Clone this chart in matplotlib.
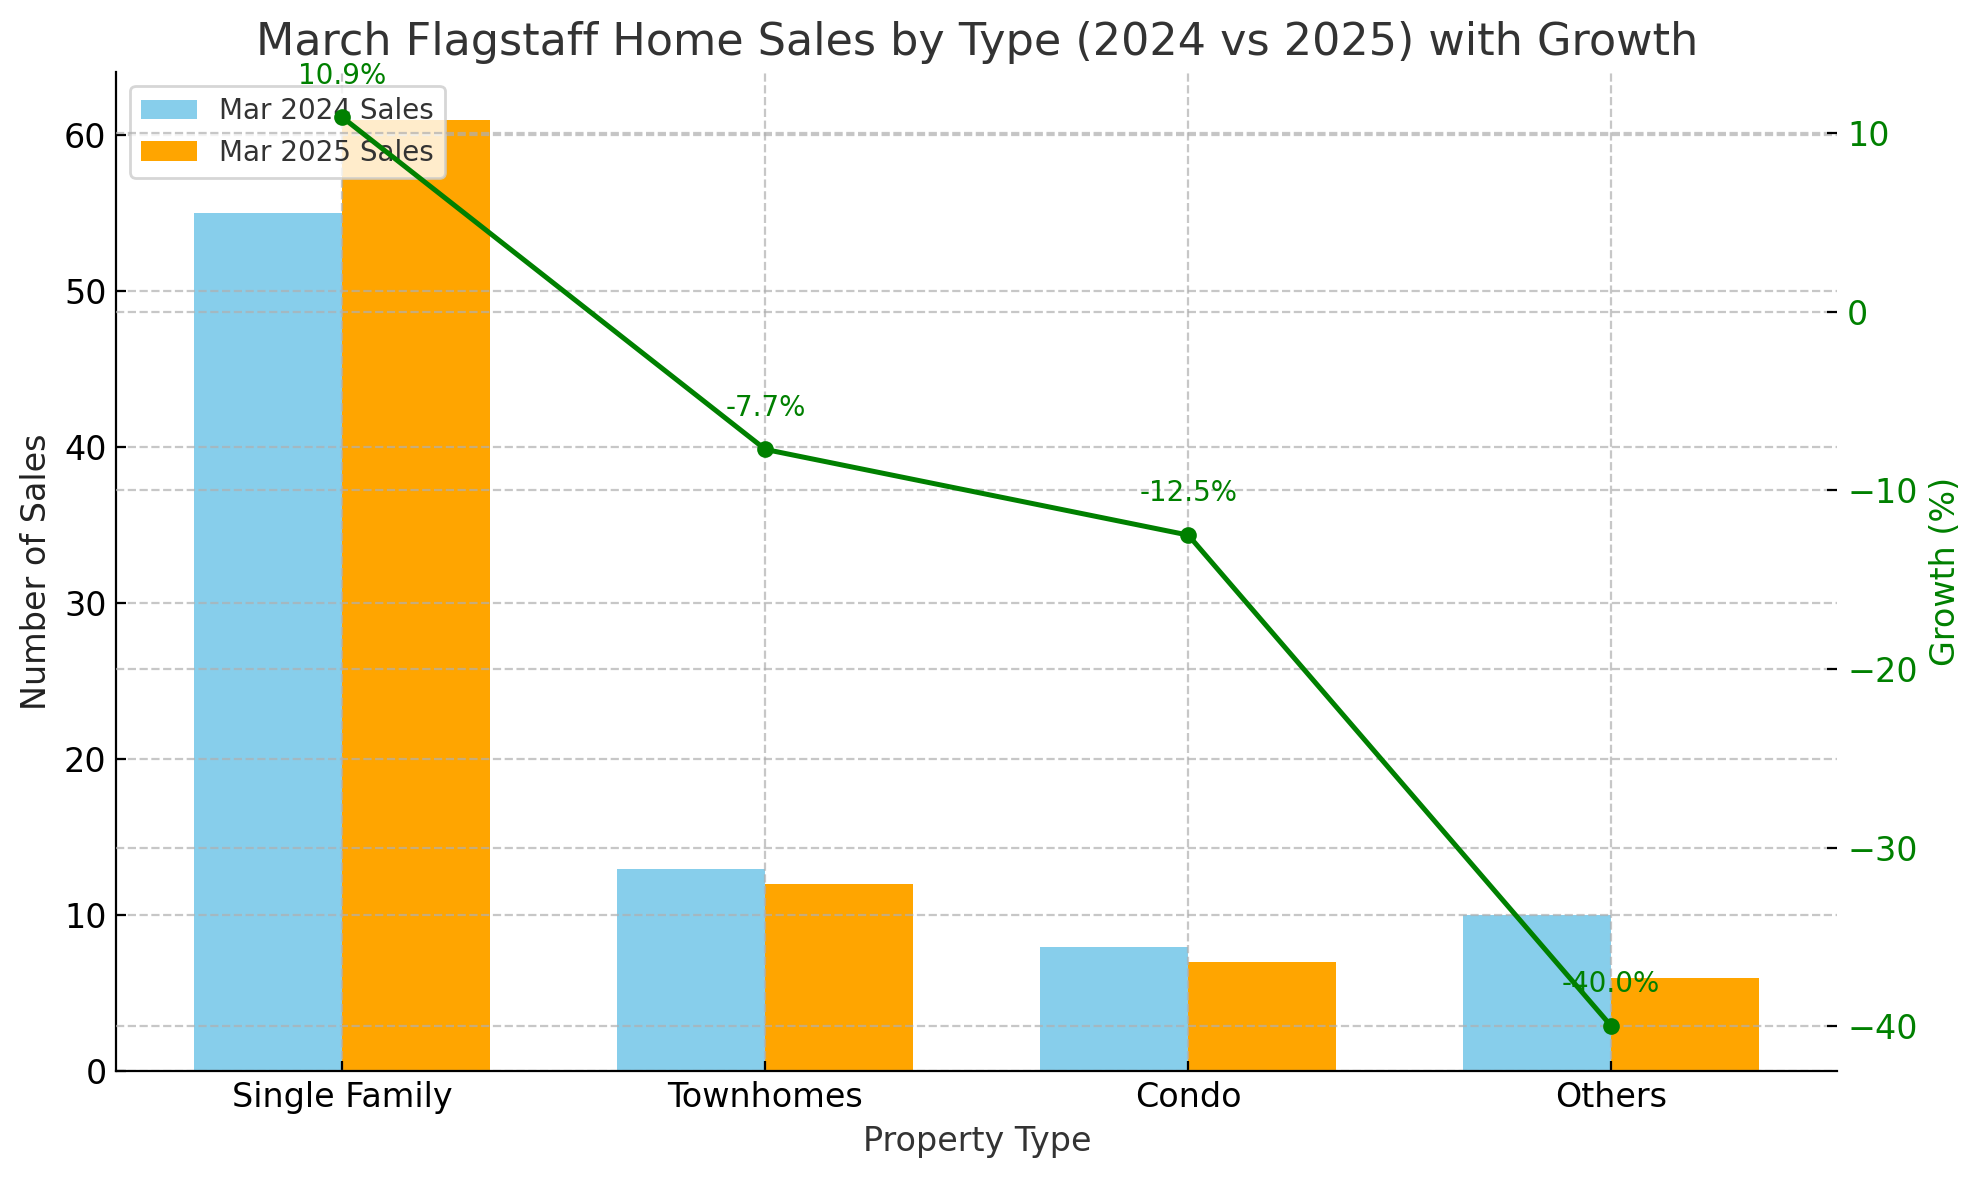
import numpy as np
import matplotlib
matplotlib.use('Agg')
import matplotlib.pyplot as plt

categories = ['Single Family', 'Townhomes', 'Condo', 'Others']
sales_2024 = [55, 13, 8, 10]
sales_2025 = [61, 12, 7, 6]
growth = [10.9, -7.7, -12.5, -40.0]

fig, ax1 = plt.subplots(figsize=(9.9, 5.9), dpi=200)

x = np.arange(len(categories))
w = 0.35
ax1.bar(x - w/2, sales_2024, w, color='skyblue', label='Mar 2024 Sales')
ax1.bar(x + w/2, sales_2025, w, color='orange', label='Mar 2025 Sales')
ax1.set_xticks(x)
ax1.set_xticklabels(categories, fontsize=12)
ax1.set_xlabel('Property Type', fontsize=12, color='#333333')
ax1.set_ylabel('Number of Sales', fontsize=12, color='#222222')
ax1.tick_params(axis='both', direction='in', labelsize=12)
ax1.grid(True, linestyle='--', alpha=0.7, linewidth=0.8)
ax1.legend(loc='upper left', fontsize=10, labelcolor='#333333')
ax1.spines['top'].set_visible(False)
ax1.spines['right'].set_visible(False)

ax2 = ax1.twinx()
ax2.plot(x, growth, color='green', marker='o', linewidth=1.8, markersize=5)
for xi, g in zip(x, growth):
    ax2.annotate(f'{g:.1f}%', (xi, g), xytext=(0, 10), textcoords='offset points',
                 ha='center', va='bottom', color='green', fontsize=10)
ax2.set_ylabel('Growth (%)', fontsize=12, color='green')
ax2.tick_params(axis='y', direction='in', labelsize=12, labelcolor='green')
ax2.grid(True, axis='y', linestyle='--', alpha=0.7, linewidth=0.8)
for s in ['top', 'right', 'left', 'bottom']:
    ax2.spines[s].set_visible(False)

ax1.set_title('March Flagstaff Home Sales by Type (2024 vs 2025) with Growth',
              fontsize=16, color='#333333')
fig.subplots_adjust(left=0.0587, right=0.928, top=0.939, bottom=0.092)
fig.savefig('out.png')
